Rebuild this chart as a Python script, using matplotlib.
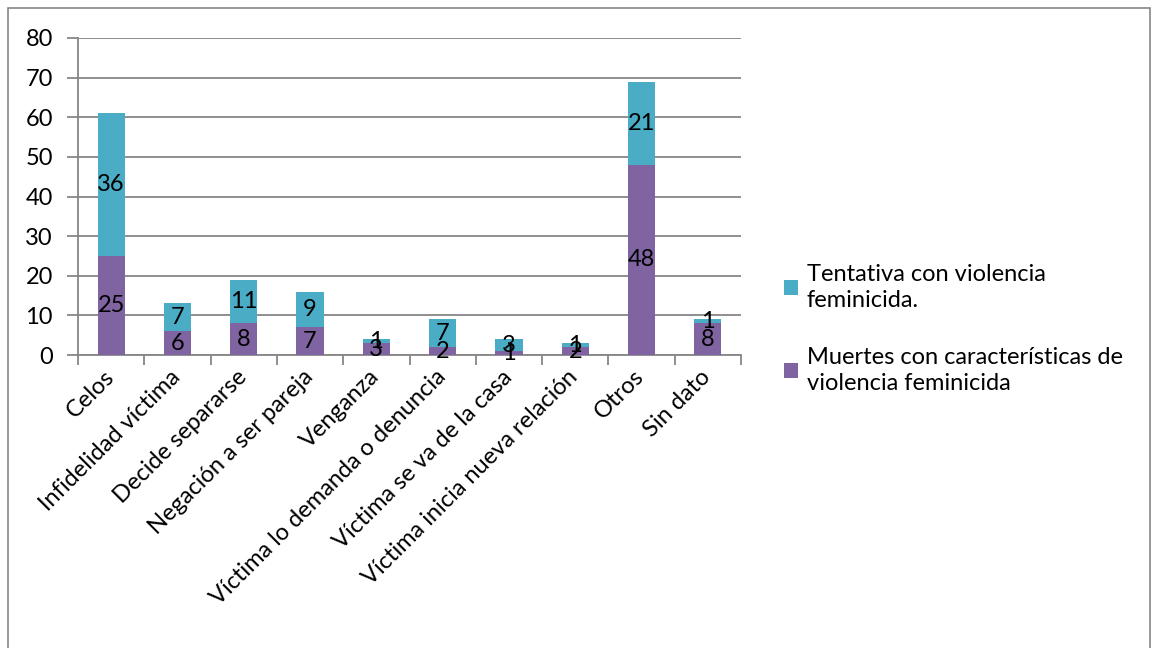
import numpy as np
import matplotlib.pyplot as plt
import matplotlib.transforms as mtransforms
from matplotlib.patches import Rectangle

# Datos
categorias = ['Celos', 'Infidelidad víctima', 'Decide separarse', 'Negación a ser pareja',
              'Venganza', 'Víctima lo demanda o denuncia', 'Víctima se va de la casa',
              'Víctima inicia nueva relación', 'Otros', 'Sin dato']
muertes = [25, 6, 8, 7, 3, 2, 1, 2, 48, 8]
tentativa = [36, 7, 11, 9, 1, 7, 3, 1, 21, 1]

plt.rcParams['font.family'] = ['Lato', 'DejaVu Sans']

col_tent = '#4BACC6'
col_muer = '#8064A2'
gris = '#868686'
fs = 17

fig = plt.figure(figsize=(11.56, 6.48), dpi=100)
ax = fig.add_axes([78/1156, 1-355/648, (741-78)/1156, (355-38)/648])

x = np.arange(len(categorias))
ancho = 0.41
b1 = ax.bar(x, muertes, ancho, color=col_muer, label='Muertes con características de\nviolencia feminicida', zorder=3)
b2 = ax.bar(x, tentativa, ancho, bottom=muertes, color=col_tent, label='Tentativa con violencia\nfeminicida.', zorder=3)

# etiquetas de valores
for i in range(len(x)):
    ax.text(x[i], muertes[i]/2, str(muertes[i]), ha='center', va='center', fontsize=fs, zorder=4)
    ax.text(x[i], muertes[i] + tentativa[i]/2, str(tentativa[i]), ha='center', va='center', fontsize=fs, zorder=4)

ax.set_xlim(-0.5, len(x)-0.5)
ax.set_ylim(0, 80)
ax.set_yticks(range(0, 81, 10))
ax.yaxis.grid(True, color=gris, linewidth=1.3, zorder=0)
ax.tick_params(axis='y', length=8, color=gris, width=1.3, labelsize=fs, pad=10)

ax.set_xticks(x)
ax.set_xticklabels(categorias, rotation=45, ha='right', rotation_mode='anchor', fontsize=fs)
ax.tick_params(axis='x', length=0, pad=8)
desp = mtransforms.ScaledTranslation(-8/100, 0, fig.dpi_scale_trans)
for lbl in ax.get_xticklabels():
    lbl.set_transform(lbl.get_transform() + desp)
ax.set_xticks(np.arange(-0.5, len(x)), minor=True)
ax.tick_params(axis='x', which='minor', length=7, color=gris, width=1.3)

for s in ['top', 'right']:
    ax.spines[s].set_visible(False)
ax.spines['left'].set_color(gris)
ax.spines['left'].set_linewidth(1.3)
ax.spines['bottom'].set_color(gris)
ax.spines['bottom'].set_linewidth(1.3)

handles = [b2, b1]
leg = fig.legend(handles, [h.get_label() for h in handles], loc='upper left',
                 bbox_to_anchor=(763/1156, 1-243/648), frameon=False, fontsize=fs,
                 handlelength=0.6, handleheight=0.6, handletextpad=0.35, labelspacing=1.5)
for t in leg.get_texts():
    t.set_linespacing(1.3)

# borde del gráfico
fig.patches.append(Rectangle((8/1156, -0.1), (1150-8)/1156, 1.1 - 8/648, transform=fig.transFigure,
                             fill=False, edgecolor=gris, linewidth=1.2))

fig.savefig('out.png', dpi=100)
